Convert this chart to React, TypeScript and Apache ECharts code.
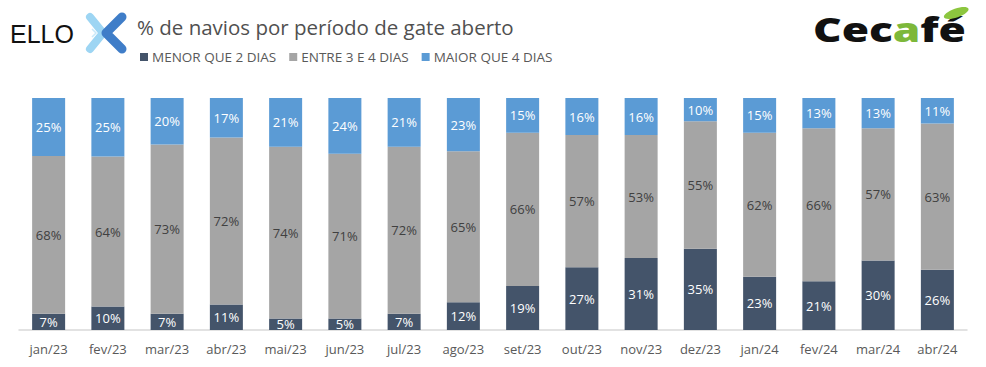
import React, { useEffect, useRef } from "react";
import * as echarts from "echarts";

const categories = ["jan/23","fev/23","mar/23","abr/23","mai/23","jun/23","jul/23","ago/23","set/23","out/23","nov/23","dez/23","jan/24","fev/24","mar/24","abr/24"];
const menorQue2 = [7,10,7,11,5,5,7,12,19,27,31,35,23,21,30,26];
const entre3e4 = [68,64,73,72,74,71,72,65,66,57,53,55,62,66,57,63];
const maiorQue4 = [25,25,20,17,21,24,21,23,15,16,16,10,15,13,13,11];
const seriesNames = ["MENOR QUE 2 DIAS","ENTRE 3 E 4 DIAS","MAIOR QUE 4 DIAS"];
const colors = ["#44546A","#A5A5A5","#5B9BD5"];

export default function App() {
  const ref = useRef<HTMLDivElement>(null);
  useEffect(() => {
    document.body.style.margin = "0";
    const chart = echarts.init(ref.current!, null, { renderer: "svg" });
    const totals = categories.map((_, i) => menorQue2[i] + entre3e4[i] + maiorQue4[i]);
    const raw = [menorQue2, entre3e4, maiorQue4];
    const font = "Open Sans";
    const series = raw.map((arr, s) => ({
      name: seriesNames[s],
      type: "bar",
      stack: "total",
      barWidth: 33,
      itemStyle: { color: colors[s] },
      data: arr.map((v, i) => ({ value: (v / totals[i]) * 100, raw: v })),
      label: {
        show: true,
        position: "inside",
        fontFamily: font,
        fontSize: 13,
        color: s === 1 ? "#404040" : "#FFFFFF",
        formatter: (p: any) => p.data.raw + "%",
      },
    }));
    chart.setOption({
      animation: false,
      color: colors,
      textStyle: { fontFamily: font },
      grid: { left: 19, right: 19, top: 98, bottom: 37, containLabel: false },
      legend: {
        left: 140,
        top: 50,
        padding: 0,
        itemWidth: 8,
        itemHeight: 8,
        itemGap: 13,
        icon: "rect",
        textStyle: { fontFamily: font, fontSize: 13.5, color: "#595959", padding: [0, 0, 0, -1] },
        data: seriesNames,
      },
      xAxis: {
        type: "category",
        data: categories,
        axisLine: { lineStyle: { color: "#D9D9D9", width: 1.5 } },
        axisTick: { show: false },
        axisLabel: { fontFamily: font, fontSize: 13, color: "#595959", margin: 12 },
      },
      yAxis: {
        type: "value",
        min: 0,
        max: 100,
        show: false,
      },
      graphic: [
        { type: "text", x: 10, y: 33.5, style: { text: "ELLO", font: "25px 'Liberation Sans'", fill: "#111111", verticalAlign: "middle" } },
        { type: "polyline", shape: { points: [[90, 17], [103, 33], [90, 49]] }, style: { stroke: "#9DD5F3", lineWidth: 8, lineCap: "round", lineJoin: "round", fill: null } },
        { type: "polyline", shape: { points: [[122, 17], [106, 33], [122, 49]] }, style: { stroke: "#3F7DC8", lineWidth: 9, lineCap: "round", lineJoin: "round", fill: null } },
        { type: "polyline", shape: { points: [[127, 28], [121.5, 33], [127, 38]] }, style: { stroke: "#FFFFFF", lineWidth: 2, fill: null } },
        { type: "polyline", shape: { points: [[92, 29], [96, 33], [92, 37]] }, style: { stroke: "#C9E9F9", lineWidth: 1.5, fill: null } },
        { type: "text", x: 137, y: 27, style: { text: "% de navios por período de gate aberto", font: "20.5px 'Open Sans'", fill: "#505050", verticalAlign: "middle" } },
        {
          type: "text", x: 813, y: 29, scaleX: 1.3, originX: 0, originY: 0,
          style: {
            text: "{k|Cec}{g|a}{k|fé}",
            verticalAlign: "middle",
            rich: {
              k: { fontFamily: "Open Sans", fontWeight: 800, fontSize: 34, fill: "#111111" },
              g: { fontFamily: "Open Sans", fontWeight: 800, fontSize: 34, fill: "#7DB83A" },
            },
          },
        },
        { type: "ellipse", shape: { cx: 956, cy: 12.5, rx: 13, ry: 4.5 }, rotation: 0.34, originX: 956, originY: 12.5, style: { fill: "#8CC63F" } },
      ],
      series,
    });
    return () => chart.dispose();
  }, []);
  return <div ref={ref} style={{ width: 986, height: 367 }} />;
}
